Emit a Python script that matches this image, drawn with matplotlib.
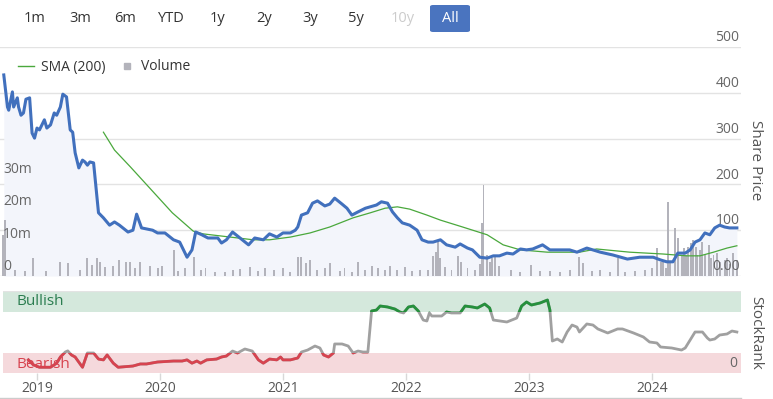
import numpy as np
import matplotlib
matplotlib.use('Agg')
import matplotlib.pyplot as plt
from matplotlib.lines import Line2D
from matplotlib.patches import Rectangle, FancyBboxPatch

plt.rcParams['font.family'] = ['Open Sans', 'DejaVu Sans']

# share price (decimal year, price)
price_t = [2018.73, 2018.76, 2018.77, 2018.80, 2018.81, 2018.84, 2018.85, 2018.87, 2018.89, 2018.91,
           2018.94, 2018.96, 2018.98, 2019.00, 2019.02, 2019.06, 2019.08, 2019.11, 2019.14, 2019.16,
           2019.19, 2019.21, 2019.24, 2019.27, 2019.29, 2019.31, 2019.34, 2019.37, 2019.39, 2019.41,
           2019.43, 2019.46, 2019.50, 2019.54, 2019.59, 2019.63, 2019.67, 2019.74, 2019.78, 2019.81,
           2019.85, 2019.94, 2019.98, 2020.04, 2020.11, 2020.16, 2020.22, 2020.26, 2020.29, 2020.34,
           2020.39, 2020.47, 2020.50, 2020.54, 2020.59, 2020.65, 2020.72, 2020.77, 2020.84, 2020.89,
           2020.95, 2021.00, 2021.06, 2021.10, 2021.12, 2021.15, 2021.20, 2021.24, 2021.28, 2021.34,
           2021.38, 2021.42, 2021.48, 2021.52, 2021.56, 2021.61, 2021.67, 2021.71, 2021.76, 2021.80,
           2021.85, 2021.89, 2021.93, 2021.97, 2022.03, 2022.09, 2022.13, 2022.18, 2022.22, 2022.28,
           2022.33, 2022.40, 2022.44, 2022.50, 2022.54, 2022.60, 2022.66, 2022.71, 2022.76, 2022.82,
           2022.87, 2022.93, 2022.98, 2023.03, 2023.11, 2023.17, 2023.25, 2023.33, 2023.39, 2023.47,
           2023.58, 2023.68, 2023.80, 2023.90, 2024.01, 2024.07, 2024.12, 2024.17, 2024.21, 2024.27,
           2024.31, 2024.35, 2024.39, 2024.43, 2024.47, 2024.51, 2024.55, 2024.59, 2024.63, 2024.69]
price = [439, 369, 362, 402, 369, 389, 369, 351, 356, 386,
         389, 312, 301, 323, 319, 341, 323, 330, 356, 351,
         369, 397, 391, 319, 314, 269, 236, 253, 249, 242,
         249, 247, 138, 127, 111, 118, 111, 96, 100, 135,
         105, 100, 94, 94, 79, 74, 41, 57, 96, 90,
         83, 83, 72, 79, 96, 83, 68, 83, 79, 92,
         85, 94, 94, 100, 107, 133, 138, 159, 164, 153,
         157, 170, 157, 148, 133, 140, 148, 151, 155, 162,
         159, 140, 127, 116, 111, 100, 79, 74, 74, 79,
         68, 63, 70, 61, 57, 41, 39, 44, 44, 50,
         48, 59, 57, 59, 68, 57, 57, 57, 52, 61,
         52, 46, 37, 41, 41, 35, 31, 31, 50, 50,
         57, 74, 79, 94, 90, 105, 111, 107, 105, 105]

# SMA (200)
sma_t = [2019.54, 2019.63, 2019.76, 2019.93, 2020.10, 2020.27, 2020.35, 2020.57, 2020.76, 2020.89,
         2021.06, 2021.22, 2021.38, 2021.57, 2021.71, 2021.83, 2021.93, 2022.03, 2022.17, 2022.28,
         2022.46, 2022.66, 2022.79, 2022.93, 2023.15, 2023.41, 2023.55, 2023.82, 2024.09, 2024.28,
         2024.39, 2024.50, 2024.61, 2024.69]
sma = [314, 275, 238, 188, 138, 98, 92, 85, 79, 79,
       85, 94, 107, 127, 138, 148, 151, 146, 133, 122,
       107, 90, 68, 57, 52, 52, 59, 52, 48, 44,
       44, 52, 61, 66]

# volume in millions
vol_t = [2018.72, 2018.74, 2018.82, 2018.90, 2018.97, 2019.07, 2019.19, 2019.25, 2019.35, 2019.41,
         2019.45, 2019.49, 2019.51, 2019.55, 2019.62, 2019.67, 2019.72, 2019.76, 2019.80, 2019.84,
         2019.92, 2019.98, 2020.02, 2020.11, 2020.15, 2020.20, 2020.28, 2020.33, 2020.37, 2020.45,
         2020.53, 2020.59, 2020.65, 2020.73, 2020.80, 2020.85, 2020.93, 2021.00, 2021.06, 2021.12,
         2021.15, 2021.19, 2021.22, 2021.28, 2021.34, 2021.38, 2021.46, 2021.50, 2021.56, 2021.61,
         2021.67, 2021.72, 2021.77, 2021.83, 2021.87, 2021.93, 2021.99, 2022.05, 2022.11, 2022.18,
         2022.22, 2022.24, 2022.26, 2022.28, 2022.32, 2022.37, 2022.42, 2022.45, 2022.50, 2022.56,
         2022.60, 2022.62, 2022.63, 2022.66, 2022.68, 2022.70, 2022.72, 2022.76, 2022.85, 2022.93,
         2023.02, 2023.09, 2023.17, 2023.25, 2023.33, 2023.41, 2023.44, 2023.51, 2023.58, 2023.66,
         2023.72, 2023.78, 2023.86, 2023.94, 2024.00, 2024.04, 2024.07, 2024.09, 2024.11, 2024.13,
         2024.15, 2024.19, 2024.21, 2024.24, 2024.26, 2024.28, 2024.29, 2024.32, 2024.33, 2024.36,
         2024.37, 2024.39, 2024.41, 2024.43, 2024.46, 2024.48, 2024.50, 2024.53, 2024.55, 2024.59,
         2024.61, 2024.63, 2024.66, 2024.69]
vol = [12.6, 17.2, 1.8, 1.5, 5.5, 1.5, 4.3, 4.0, 1.8, 5.5,
       3.4, 5.5, 4.3, 2.8, 3.1, 4.9, 4.3, 4.3, 2.5, 4.3,
       3.1, 2.5, 3.1, 8.0, 1.5, 2.5, 5.8, 1.8, 2.5, 1.2,
       1.2, 1.8, 2.2, 2.8, 1.5, 2.5, 1.8, 2.5, 1.2, 5.8,
       5.8, 4.0, 4.9, 1.8, 2.5, 4.0, 1.5, 2.5, 1.2, 4.3,
       1.8, 3.1, 2.5, 1.8, 3.1, 1.8, 2.8, 1.5, 1.8, 1.8,
       6.2, 7.4, 11.1, 5.5, 2.8, 1.8, 6.2, 4.3, 2.5, 1.8,
       3.7, 16.3, 28.0, 6.5, 4.3, 5.5, 6.2, 3.1, 1.8, 1.2,
       3.4, 1.5, 1.5, 1.2, 1.8, 5.8, 4.0, 1.5, 1.8, 1.2,
       5.5, 1.2, 1.5, 1.8, 2.5, 8.6, 4.3, 4.3, 2.5, 22.8,
       4.3, 14.8, 11.7, 6.5, 8.6, 6.5, 8.9, 10.2, 11.1, 8.9,
       6.5, 8.0, 10.5, 6.5, 9.5, 5.5, 6.5, 7.1, 4.3, 4.9,
       5.5, 3.7, 7.1, 4.9]

# StockRank
rank_t = [2018.93, 2018.97, 2019.02, 2019.11, 2019.16, 2019.19, 2019.23, 2019.25, 2019.28, 2019.31,
          2019.37, 2019.41, 2019.46, 2019.50, 2019.54, 2019.57, 2019.62, 2019.66, 2019.78, 2019.84,
          2019.89, 2019.98, 2020.11, 2020.18, 2020.22, 2020.26, 2020.30, 2020.33, 2020.38, 2020.46,
          2020.50, 2020.54, 2020.59, 2020.63, 2020.69, 2020.75, 2020.80, 2020.84, 2020.89, 2020.95,
          2020.98, 2021.00, 2021.06, 2021.12, 2021.15, 2021.20, 2021.26, 2021.30, 2021.33, 2021.37,
          2021.41, 2021.42, 2021.48, 2021.53, 2021.57, 2021.61, 2021.65, 2021.69, 2021.72, 2021.76,
          2021.79, 2021.85, 2021.91, 2021.95, 2021.98, 2022.02, 2022.06, 2022.10, 2022.14, 2022.17,
          2022.19, 2022.21, 2022.29, 2022.33, 2022.37, 2022.44, 2022.48, 2022.54, 2022.58, 2022.64,
          2022.68, 2022.71, 2022.82, 2022.90, 2022.94, 2022.98, 2023.02, 2023.09, 2023.15, 2023.17,
          2023.19, 2023.23, 2023.27, 2023.31, 2023.35, 2023.39, 2023.41, 2023.47, 2023.52, 2023.56,
          2023.64, 2023.72, 2023.76, 2023.85, 2023.93, 2023.98, 2024.04, 2024.07, 2024.16, 2024.24,
          2024.27, 2024.31, 2024.35, 2024.41, 2024.45, 2024.47, 2024.51, 2024.55, 2024.61, 2024.65,
          2024.69]
rank = [16, 10, 7, 7, 12, 19.5, 25.6, 27, 22, 19.5,
        7, 24.4, 24.4, 17, 16, 22, 12, 7, 8.5, 11,
        11, 13.4, 14.6, 14.6, 16, 12, 14.6, 12, 16, 17,
        19.5, 20.7, 26.8, 24.4, 29.3, 26.8, 16, 12, 17, 16,
        19.5, 16, 16, 18.3, 25.6, 28, 32.9, 30.5, 22, 19.5,
        24.4, 35.4, 35.4, 32.9, 24.4, 26.8, 25.6, 25.6, 75.6, 76.8,
        81.7, 80.5, 78, 74.4, 73.2, 80.5, 81.7, 75.6, 64.6, 63.4,
        73.2, 69.5, 69.5, 74.4, 73.2, 73.2, 81.7, 80.5, 79.3, 84.1,
        79.3, 64.6, 62.2, 67, 81.7, 86.6, 82.9, 85.4, 89, 76.8,
        39, 41.5, 37.8, 50, 58.5, 56, 50, 59.8, 58.5, 53.7,
        48.8, 53.7, 53.7, 48.8, 43.9, 37.8, 36.6, 31.7, 30.5, 28,
        30.5, 40.2, 50, 50, 42.7, 40.2, 41.5, 46.3, 47.6, 51.2,
        50]

years = [2019, 2020, 2021, 2022, 2023, 2024]
price_ticks = [0, 100, 200, 300, 400, 500]
vol_ticks = [0, 10, 20, 30]
buttons = ['1m', '3m', '6m', 'YTD', '1y', '2y', '3y', '5y', '10y', 'All']

W, H = 773, 399
blue = '#4170bd'
green = '#4aa83c'
grey_text = '#666666'
vol_scale = 500 / 70.5  # price units per million shares

fig = plt.figure(figsize=(W / 100, H / 100), dpi=100)
x0, x1 = 0, 741
xlim = (2019 + (x0 - 37) / 123, 2019 + (x1 - 37) / 123)

ax = fig.add_axes([x0 / W, 1 - 276 / H, (x1 - x0) / W, 229 / H])
ax.set_xlim(xlim)
ax.set_ylim(0, 500)
for p in price_ticks:
    ax.axhline(p, color='#e3e3e3', lw=1, zorder=0)
    lab = '0.00' if p == 0 else str(p)
    ax.text(0.998, p + 4, lab, transform=ax.get_yaxis_transform(), ha='right', va='bottom',
            fontsize=10, color=grey_text, zorder=6)
for v in vol_ticks:
    ax.text(0.004, v * vol_scale + 4, '0' if v == 0 else '%dm' % v, transform=ax.get_yaxis_transform(),
            ha='left', va='bottom', fontsize=10, color=grey_text, zorder=6)

ax.fill_between(price_t, price, 0, color='#f3f5fb', lw=0, zorder=1)
ax.bar(vol_t, np.array(vol) * vol_scale, width=0.016, color='#b3b3bb', lw=0, zorder=2)
ax.plot(sma_t, sma, color=green, lw=0.9, zorder=3)
ax.plot(price_t, price, color=blue, lw=2.2, zorder=4, solid_joinstyle='round')
ax.axis('off')

handles = [Line2D([], [], color=green, lw=1),
           Line2D([], [], marker='s', ls='', color='#b3b3bb', ms=5)]
ax.legend(handles, ['SMA (200)', 'Volume'], loc='upper left', bbox_to_anchor=(0.008, 1.0), ncol=2,
          frameon=False, handlelength=1.1, handletextpad=0.5, columnspacing=1.0, fontsize=10,
          labelcolor='#333333')

fig.text(756 / W, 1 - 160 / H, 'Share Price', rotation=270, ha='center', va='center',
         fontsize=11, color='#555555')

# StockRank panel
ax2 = fig.add_axes([3 / W, 1 - 373 / H, (x1 - 3) / W, 82 / H])
ax2.set_xlim(2019 + (3 - 37) / 123, xlim[1])
ax2.set_ylim(0, 100)
ax2.axhspan(75, 100, color='#d4e8dc', lw=0, zorder=0)
ax2.axhspan(0, 25, color='#f5d9dc', lw=0, zorder=0)
ax2.plot(rank_t, rank, color='#a0a0a0', lw=2, zorder=2)
lo = ax2.plot(rank_t, rank, color='#d7434f', lw=2, zorder=3)[0]
lo.set_clip_path(Rectangle((xlim[0], -5), 10, 30, transform=ax2.transData))
hi = ax2.plot(rank_t, rank, color='#25903c', lw=2, zorder=3)[0]
hi.set_clip_path(Rectangle((xlim[0], 75), 10, 30, transform=ax2.transData))
ax2.text(0.018, 87.5, 'Bullish', transform=ax2.get_yaxis_transform(), ha='left', va='center',
         fontsize=11, color='#2b7d50', zorder=5)
ax2.text(0.018, 10, 'Bearish', transform=ax2.get_yaxis_transform(), ha='left', va='center',
         fontsize=11, color='#d7434f', zorder=5)
ax2.text(0.995, 3, '0', transform=ax2.get_yaxis_transform(), ha='right', va='bottom',
         fontsize=10, color=grey_text)
ax2.set_xticks(years)
ax2.set_xticklabels([str(y) for y in years])
ax2.tick_params(axis='x', length=5, width=1, color='#d8d8d8', labelsize=10, labelcolor='#555555', pad=1)
ax2.set_yticks([])
for s in ax2.spines.values():
    s.set_visible(False)
ax2.axhline(100, color='#e3e3e3', lw=1, zorder=1)

fig.text(756 / W, 1 - 333 / H, 'StockRank', rotation=270, ha='center', va='center',
         fontsize=11, color='#555555')

fig.add_artist(Line2D([0, x1 / W], [1 - 397.5 / H, 1 - 397.5 / H], color='#cccccc', lw=1))

# range selector buttons
btn_x = [35, 80, 125, 171, 218, 264, 310, 356, 403, 450]
for name, bx in zip(buttons, btn_x):
    c = '#cccccc' if name == '10y' else '#333333'
    if name == 'All':
        fig.add_artist(FancyBboxPatch((430 / W, 1 - 32 / H), 40 / W, 27 / H,
                                      boxstyle='round,pad=0,rounding_size=0.004',
                                      transform=fig.transFigure, fc='#4a74bf', ec='none'))
        c = 'white'
    fig.text(bx / W, 1 - 19 / H, name, ha='center', va='center', fontsize=10.5, color=c)

fig.savefig('out.png', dpi=100)
